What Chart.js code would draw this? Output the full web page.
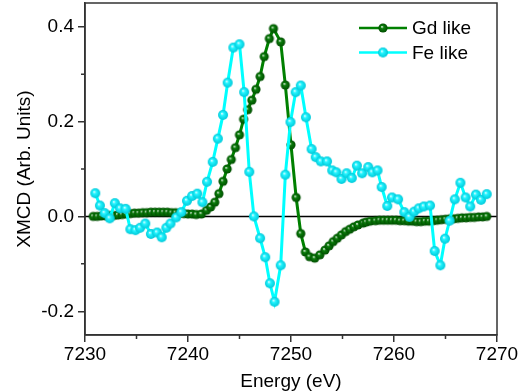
<!DOCTYPE html>
<html>
<head>
<meta charset="utf-8">
<script src="https://cdn.jsdelivr.net/npm/chart.js@4.4.1/dist/chart.umd.min.js"></script>
<style>
  html, body { margin: 0; padding: 0; background: #fff; }
  #chart { display: block; }
</style>
</head>
<body>
<canvas id="chart" width="523" height="391"></canvas>
<script>
// ------------------------------------------------------------------
// Données
// ------------------------------------------------------------------
const gdEnergy = [
  7230.8, 7231.2, 7231.6, 7232.0, 7232.4, 7232.8, 7233.2, 7233.6, 7234.0, 7234.4,
  7234.8, 7235.2, 7235.6, 7236.0, 7236.4, 7236.8, 7237.2, 7237.6, 7238.0, 7238.4,
  7238.8, 7239.2, 7239.6, 7240.0, 7240.4, 7240.8, 7241.3, 7241.8, 7242.2, 7242.6,
  7243.0, 7243.4, 7243.8, 7244.2, 7244.6, 7245.0, 7245.4, 7245.8, 7246.2, 7246.6,
  7247.0, 7247.4, 7247.9, 7248.3, 7249.0, 7249.45, 7250.0, 7250.5, 7250.95, 7251.4,
  7251.8, 7252.3, 7252.8, 7253.3, 7253.7, 7254.1, 7254.5, 7254.9, 7255.3, 7255.7,
  7256.1, 7256.5, 7257.0, 7257.3, 7257.7, 7258.2, 7258.6, 7259.0, 7259.4, 7259.8,
  7260.2, 7260.6, 7261.0, 7261.4, 7261.8, 7262.2, 7262.6, 7263.0, 7263.4, 7263.8,
  7264.2, 7264.6, 7265.0, 7265.4, 7265.8, 7266.2, 7266.6, 7267.0, 7267.4, 7267.8,
  7268.2, 7268.6, 7269.0
];
const gdValues = [
  0.000, 0.000, 0.001, 0.001, 0.002, 0.002, 0.003, 0.004, 0.005, 0.006,
  0.007, 0.007, 0.008, 0.008, 0.009, 0.009, 0.009, 0.009, 0.009, 0.008,
  0.008, 0.007, 0.006, 0.005, 0.005, 0.004, 0.005, 0.013, 0.020, 0.030,
  0.048, 0.074, 0.100, 0.120, 0.145, 0.172, 0.205, 0.225, 0.245, 0.268,
  0.295, 0.337, 0.375, 0.396, 0.368, 0.277, 0.151, 0.040, -0.036, -0.075,
  -0.085, -0.088, -0.081, -0.071, -0.062, -0.053, -0.046, -0.039, -0.032, -0.027,
  -0.022, -0.018, -0.014, -0.012, -0.010, -0.009, -0.008, -0.008, -0.008, -0.008,
  -0.008, -0.009, -0.009, -0.010, -0.010, -0.011, -0.011, -0.010, -0.010, -0.009,
  -0.008, -0.007, -0.006, -0.005, -0.005, -0.004, -0.003, -0.003, -0.002, -0.002,
  -0.001, -0.001, 0.000
];

const feEnergy = [
  7231.0, 7231.45, 7231.9, 7232.4, 7232.9, 7233.4, 7233.95, 7234.4, 7234.9, 7235.35,
  7235.85, 7236.4, 7237.0, 7237.45, 7237.9, 7238.3, 7238.85, 7239.35, 7239.9, 7240.4,
  7240.9, 7241.4, 7241.85, 7242.4, 7242.9, 7243.4, 7243.85, 7244.4, 7245.0, 7245.45,
  7245.95, 7246.4, 7247.0, 7247.5, 7247.95, 7248.4, 7249.0, 7249.45, 7249.95, 7250.45,
  7250.95, 7251.45, 7252.0, 7252.4, 7252.9, 7253.5, 7254.0, 7254.4, 7254.9, 7255.4,
  7255.9, 7256.4, 7256.9, 7257.5, 7257.9, 7258.4, 7258.8, 7259.35, 7259.8, 7260.4,
  7261.0, 7261.5, 7261.95, 7262.4, 7262.9, 7263.5, 7263.95, 7264.5, 7264.95, 7265.4,
  7265.9, 7266.45, 7266.95, 7267.4, 7267.95, 7268.45, 7269.0
];
const feValues = [
  0.049, 0.023, 0.007, -0.004, 0.028, 0.017, 0.016, -0.027, -0.029, -0.024,
  -0.015, -0.037, -0.034, -0.044, -0.024, -0.015, -0.002, 0.009, 0.033, 0.043,
  0.048, 0.030, 0.073, 0.115, 0.164, 0.214, 0.282, 0.356, 0.363, 0.262,
  0.094, 0.000, -0.046, -0.086, -0.141, -0.180, -0.103, 0.088, 0.199, 0.262,
  0.276, 0.209, 0.142, 0.125, 0.116, 0.116, 0.097, 0.093, 0.079, 0.091,
  0.081, 0.107, 0.091, 0.104, 0.093, 0.097, 0.062, 0.022, 0.040, 0.036,
  0.009, -0.001, 0.010, 0.017, 0.021, 0.023, -0.073, -0.103, -0.047, -0.009,
  0.036, 0.071, 0.040, 0.021, 0.046, 0.035, 0.047
];

const xTicks = [7230, 7240, 7250, 7260, 7270];
const xMinorTicks = [7235, 7245, 7255, 7265];
const yTicks = [-0.2, 0.0, 0.2, 0.4];
const yMinorTicks = [-0.1, 0.1, 0.3];

const FONT = "'Liberation Sans', Arial, sans-serif";
const FRAME = '#333333';
const GD_COLOR = '#008000';
const FE_COLOR = '#00ffff';

// Boule "3D" avec reflet, comme les symboles Origin
function makeBall(r, base, dark) {
  const c = document.createElement('canvas');
  const s = Math.ceil(2 * r + 2);
  c.width = c.height = s;
  const g = c.getContext('2d');
  const cx = s / 2;
  const grad = g.createRadialGradient(cx - r * 0.25, cx - r * 0.3, 0, cx, cx, r);
  grad.addColorStop(0, '#ffffff');
  grad.addColorStop(0.35, base);
  grad.addColorStop(1, dark);
  g.fillStyle = grad;
  g.beginPath();
  g.arc(cx, cx, r, 0, Math.PI * 2);
  g.fill();
  return c;
}

const gdBall = makeBall(4.6, '#0a7d0a', '#004d00');
const feBall = makeBall(5, '#22f4ff', '#00c8d8');

// Cadre, ligne du zéro, petites graduations et légende
const framePlugin = {
  id: 'frame',
  beforeDatasetsDraw(chart) {
    const { ctx, chartArea: a, scales } = chart;
    const y0 = scales.y.getPixelForValue(0);
    ctx.save();
    ctx.strokeStyle = '#000';
    ctx.lineWidth = 1.5;
    ctx.beginPath();
    ctx.moveTo(a.left, y0);
    ctx.lineTo(a.right, y0);
    ctx.stroke();
    ctx.restore();
  },
  afterDraw(chart) {
    const { ctx, chartArea: a, scales } = chart;
    ctx.save();
    ctx.strokeStyle = FRAME;
    ctx.lineWidth = 1.5;
    ctx.strokeRect(a.left, a.top, a.right - a.left, a.bottom - a.top);

    ctx.beginPath();
    xMinorTicks.forEach(v => {
      const px = scales.x.getPixelForValue(v);
      ctx.moveTo(px, a.bottom);
      ctx.lineTo(px, a.bottom + 4);
    });
    yMinorTicks.forEach(v => {
      const py = scales.y.getPixelForValue(v);
      ctx.moveTo(a.left, py);
      ctx.lineTo(a.left - 4, py);
    });
    ctx.stroke();

    // légende
    const items = [
      { label: 'Gd like', color: GD_COLOR, ball: gdBall, y: 28 },
      { label: 'Fe like', color: FE_COLOR, ball: feBall, y: 52.5 },
    ];
    ctx.font = '19px ' + FONT;
    ctx.textBaseline = 'middle';
    ctx.textAlign = 'left';
    items.forEach(it => {
      ctx.strokeStyle = it.color;
      ctx.lineWidth = 2.5;
      ctx.beginPath();
      ctx.moveTo(359, it.y);
      ctx.lineTo(407, it.y);
      ctx.stroke();
      ctx.drawImage(it.ball, 383 - it.ball.width / 2, it.y - it.ball.height / 2);
      ctx.fillStyle = '#000';
      ctx.fillText(it.label, 412, it.y + 1);
    });
    ctx.restore();
  }
};

new Chart(document.getElementById('chart'), {
  type: 'line',
  data: {
    datasets: [
      {
        label: 'Fe like',
        data: feEnergy.map((e, i) => ({ x: e, y: feValues[i] })),
        borderColor: FE_COLOR,
        borderWidth: 3,
        pointStyle: feBall,
        pointRadius: 5,
        tension: 0,
        order: 0,
      },
      {
        label: 'Gd like',
        data: gdEnergy.map((e, i) => ({ x: e, y: gdValues[i] })),
        borderColor: GD_COLOR,
        borderWidth: 3,
        pointStyle: gdBall,
        pointRadius: 4.6,
        tension: 0,
        order: 1,
      },
    ],
  },
  options: {
    responsive: false,
    animation: false,
    devicePixelRatio: 1,
    layout: { autoPadding: false, padding: { top: 3, right: 26, left: 0, bottom: 0 } },
    plugins: {
      legend: { display: false },
      tooltip: { enabled: false },
    },
    scales: {
      x: {
        type: 'linear',
        min: 7230,
        max: 7270,
        afterBuildTicks: s => { s.ticks = xTicks.map(v => ({ value: v })); },
        afterFit: s => { s.height = 56; s.paddingLeft = 0; s.paddingRight = 0; },
        grid: { drawOnChartArea: false, tickLength: 7, color: FRAME, lineWidth: 1.5 },
        border: { display: true, color: FRAME, width: 1.5 },
        ticks: {
          color: '#000',
          padding: 1,
          maxRotation: 0,
          font: { family: FONT, size: 19 },
          callback: v => String(v),
        },
        title: {
          display: true,
          text: 'Energy (eV)',
          color: '#000',
          font: { family: FONT, size: 19 },
          padding: { top: 0, bottom: -2 },
        },
      },
      y: {
        type: 'linear',
        min: -0.25,
        max: 0.45,
        afterBuildTicks: s => { s.ticks = yTicks.map(v => ({ value: v })); },
        afterFit: s => { s.width = 85; s.paddingTop = 0; s.paddingBottom = 0; },
        grid: { drawOnChartArea: false, tickLength: 7, color: FRAME, lineWidth: 1.5 },
        border: { display: true, color: FRAME, width: 1.5 },
        ticks: {
          color: '#000',
          padding: 4,
          font: { family: FONT, size: 19 },
          callback: v => v.toFixed(1),
        },
        title: {
          display: true,
          text: 'XMCD (Arb. Units)',
          color: '#000',
          font: { family: FONT, size: 19 },
          padding: { top: 13, bottom: 0 },
        },
      },
    },
  },
  plugins: [framePlugin],
});
</script>
</body>
</html>
